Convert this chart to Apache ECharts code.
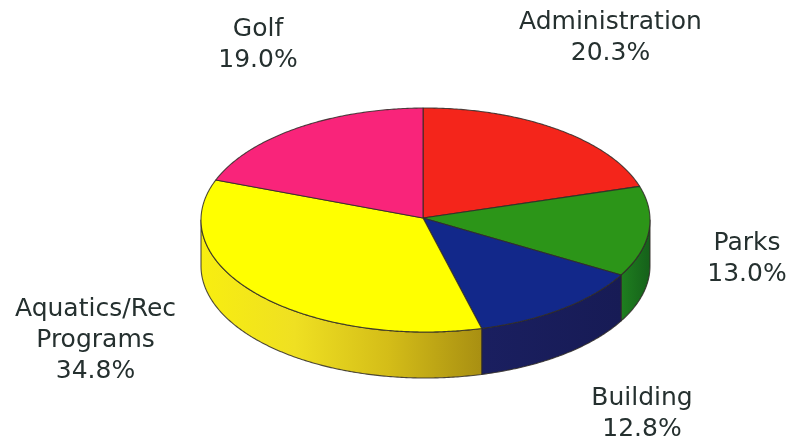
<!DOCTYPE html>
<html>
<head>
<meta charset="utf-8">
<style>html,body{margin:0;padding:0;background:#fff}#chart{width:791px;height:442px}</style>
<script src="https://cdn.jsdelivr.net/npm/echarts@6/dist/echarts.min.js"></script>
</head>
<body>
<div id="chart"></div>
<script>
// Budget shares, clockwise from twelve o'clock
const categories = ['Administration', 'Parks', 'Building', 'Aquatics/Rec\nPrograms', 'Golf'];
const shares = [20.3, 13.0, 12.8, 34.8, 19.0];
const shareLabels = ['20.3%', '13.0%', '12.8%', '34.8%', '19.0%'];

// Styling and layout, separate from the values
const topColors = ['#f4251b', '#2c9518', '#12288a', '#ffff00', '#f9247a'];
const wallColors = [
  null,
  ['#1f7f1f', '#15601a'],
  ['#1a1f60', '#171b55'],
  ['#f8ee10', '#efe022', '#d4bd18', '#a88f12'],
  null
];
const labelCentres = [[610.5, 38], [747, 259], [642, 414], [95.5, 340], [258, 45]];
const disc = { cx: 425.5, cy: 220, rx: 224.5, ry: 112, depth: 46, apexX: 423, apexY: 218, turn: -0.011 };
const edge = 'rgba(48,44,40,0.85)';

const total = shares.reduce((a, b) => a + b, 0);
const startFractions = [];
shares.reduce((sum, v, i) => { startFractions[i] = sum / total; return sum + v; }, 0);

// Point on the tilted rim; angle in radians, clockwise from the top
function rim(a, dy) {
  return [disc.cx + disc.rx * Math.sin(a), disc.cy - disc.ry * Math.cos(a) + (dy || 0)];
}

function arcPoints(a0, a1, dy) {
  const n = Math.max(2, Math.ceil((a1 - a0) / 0.01));
  const pts = [];
  for (let i = 0; i <= n; i++) pts.push(rim(a0 + (a1 - a0) * i / n, dy));
  return pts;
}

function renderSlice(params, api) {
  const i = params.dataIndex;
  const a0 = startFractions[i] * 2 * Math.PI + disc.turn;
  const a1 = a0 + (api.value(0) / total) * 2 * Math.PI;
  const children = [];

  // Front-facing wall: only the part of the rim between 3 and 9 o'clock
  const w0 = Math.max(a0, Math.PI / 2);
  const w1 = Math.min(a1, 3 * Math.PI / 2);
  if (w1 > w0 && wallColors[i]) {
    const stops = wallColors[i].map((color, k, arr) => ({ offset: k / (arr.length - 1), color }));
    children.push({
      type: 'polygon',
      shape: { points: arcPoints(w0, w1, 0).concat(arcPoints(w0, w1, disc.depth).reverse()) },
      style: {
        fill: { type: 'linear', x: 0, y: 0, x2: 1, y2: 0, colorStops: stops },
        stroke: edge, lineWidth: 1.1, lineJoin: 'round'
      }
    });
  }

  // Top face
  children.push({
    type: 'polygon',
    shape: { points: [[disc.apexX, disc.apexY]].concat(arcPoints(a0, a1, 0)) },
    style: { fill: topColors[i], stroke: edge, lineWidth: 1.1, lineJoin: 'round' }
  });

  // Name and share
  const c = labelCentres[i];
  children.push({
    type: 'text',
    x: c[0], y: c[1],
    style: {
      text: categories[i] + '\n' + shareLabels[i],
      fill: '#25302f',
      font: '25px "DejaVu Sans"',
      lineHeight: 31,
      align: 'center',
      verticalAlign: 'middle'
    }
  });
  return { type: 'group', children };
}

const chart = echarts.init(document.getElementById('chart'), null, { renderer: 'canvas' });
chart.setOption({
  animation: false,
  backgroundColor: '#ffffff',
  series: [{
    type: 'custom',
    coordinateSystem: 'none',
    silent: true,
    data: shares.map((v, i) => [v, i]),
    renderItem: renderSlice
  }]
});
</script>
</body>
</html>
